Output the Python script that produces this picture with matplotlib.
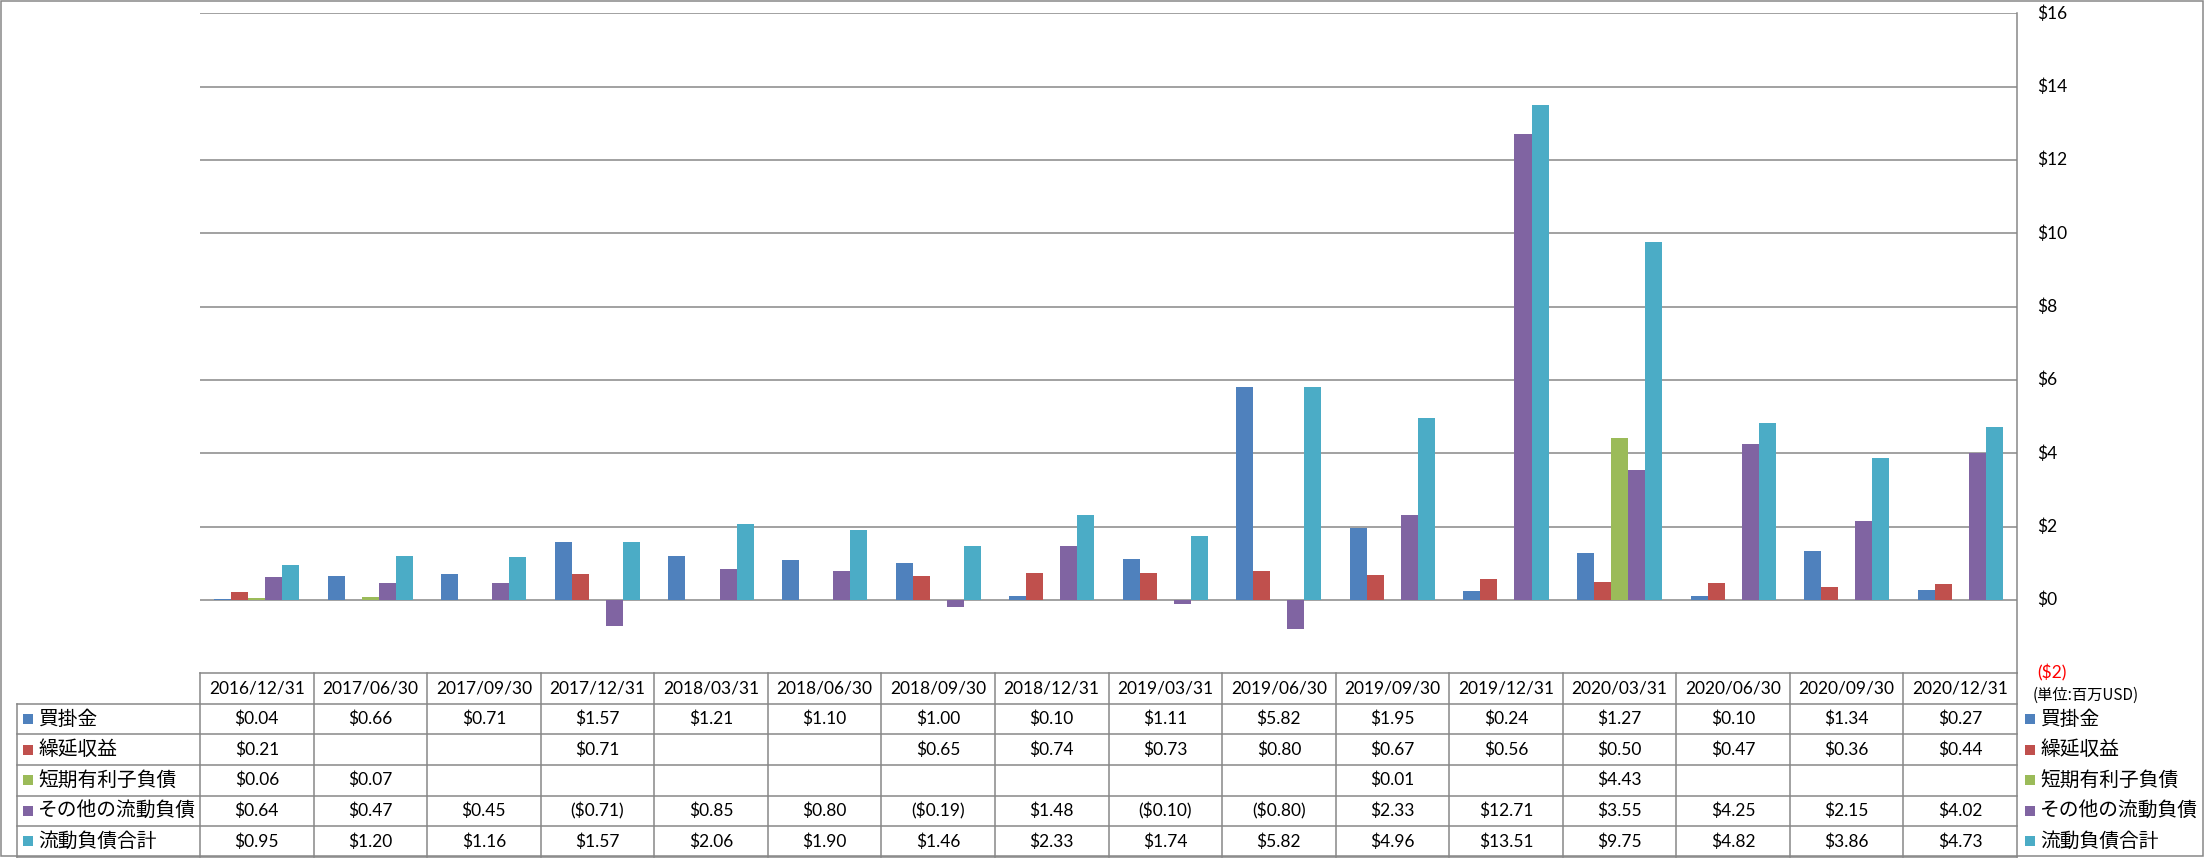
import matplotlib
matplotlib.use("Agg")
import matplotlib.pyplot as plt
from matplotlib.patches import Rectangle
import numpy as np

plt.rcParams['font.family'] = ['Lato', 'Noto Sans CJK JP', 'DejaVu Sans']

dates = ["2016/12/31", "2017/06/30", "2017/09/30", "2017/12/31", "2018/03/31",
         "2018/06/30", "2018/09/30", "2018/12/31", "2019/03/31", "2019/06/30",
         "2019/09/30", "2019/12/31", "2020/03/31", "2020/06/30", "2020/09/30",
         "2020/12/31"]

series_names = ["買掛金", "繰延収益", "短期有利子負債", "その他の流動負債", "流動負債合計"]

accounts_payable = [0.04, 0.66, 0.71, 1.57, 1.21, 1.10, 1.00, 0.10, 1.11, 5.82,
                    1.95, 0.24, 1.27, 0.10, 1.34, 0.27]
deferred_revenue = [0.21, None, None, 0.71, None, None, 0.65, 0.74, 0.73, 0.80,
                    0.67, 0.56, 0.50, 0.47, 0.36, 0.44]
short_term_debt = [0.06, 0.07, None, None, None, None, None, None, None, None,
                   0.01, None, 4.43, None, None, None]
other_current = [0.64, 0.47, 0.45, -0.71, 0.85, 0.80, -0.19, 1.48, -0.10, -0.80,
                 2.33, 12.71, 3.55, 4.25, 2.15, 4.02]
total_current = [0.95, 1.20, 1.16, 1.57, 2.06, 1.90, 1.46, 2.33, 1.74, 5.82,
                 4.96, 13.51, 9.75, 4.82, 3.86, 4.73]

y_ticks = [-2, 0, 2, 4, 6, 8, 10, 12, 14, 16]
unit_label = "(単位:百万USD)"

colors = ["#4F81BD", "#C0504D", "#9BBB59", "#8064A2", "#4BACC6"]
all_series = [accounts_payable, deferred_revenue, short_term_debt, other_current, total_current]

W, H = 2205, 858
fig = plt.figure(figsize=(W / 100, H / 100), dpi=100)

# layout in pixels
PL, PR, PT, PB = 200, 2017, 13.3, 673.3
ROW_H = 30.55
LABEL_L = 17
GRID = "#878787"
LW = 1.1
NUM_FS = 12.5
CJK_FS = 14.2

ax = fig.add_axes([PL / W, (H - PB) / H, (PR - PL) / W, (PB - PT) / H])
n = len(dates)
ax.set_xlim(0, n)
ax.set_ylim(-2, 16)
bw = 0.15
x = np.arange(n) + 0.5
for k, (vals, c) in enumerate(zip(all_series, colors)):
    xs = [xi + (k - 2) * bw for xi, v in zip(x, vals) if v is not None]
    vs = [v for v in vals if v is not None]
    ax.bar(xs, vs, width=bw, color=c, linewidth=0, zorder=3)
for t in y_ticks:
    if t > -2:
        ax.axhline(t, color=GRID, lw=LW, zorder=2)
for s in ["left", "top", "bottom"]:
    ax.spines[s].set_visible(False)
ax.spines["right"].set_color(GRID)
ax.spines["right"].set_linewidth(LW)
ax.set_xticks([])
ax.set_yticks([])

# overlay in pixel coordinates
ov = fig.add_axes([0, 0, 1, 1], zorder=5)
ov.set_xlim(0, W)
ov.set_ylim(H, 0)
ov.axis("off")
ov.patch.set_alpha(0)

# outer border
ov.add_patch(Rectangle((1, 1), W - 3, H - 3, fill=False, ec=GRID, lw=LW))

# y tick labels (right)
def fmt_tick(t):
    return f"${t}" if t >= 0 else f"(${-t})"

yscale = (PB - PT) / 18.0
for t in y_ticks:
    yy = PB - (t + 2) * yscale
    ov.text(2037, yy, fmt_tick(t), ha="left", va="center", fontsize=NUM_FS,
            color="red" if t < 0 else "black")
ov.text(2033, 695, unit_label, ha="left", va="center", fontsize=11,
        family=["Noto Sans CJK JP"])

# table
cw = (PR - PL) / n
rows_top = PB
nrows = 1 + len(series_names)
tbot = rows_top + nrows * ROW_H
ov.plot([PL, PR], [rows_top, rows_top], color=GRID, lw=LW)
for r in range(1, nrows + 1):
    yy = rows_top + r * ROW_H
    ov.plot([LABEL_L, PR], [yy, yy], color=GRID, lw=LW)
ov.plot([LABEL_L, LABEL_L], [rows_top + ROW_H, tbot], color=GRID, lw=LW)
for i in range(n + 1):
    xx = PL + i * cw
    ov.plot([xx, xx], [rows_top, tbot], color=GRID, lw=LW)

def fmt_val(v):
    if v is None:
        return ""
    return f"${v:.2f}" if v >= 0 else f"(${-v:.2f})"

for i, d in enumerate(dates):
    ov.text(PL + (i + 0.5) * cw, rows_top + 0.5 * ROW_H, d, ha="center",
            va="center", fontsize=NUM_FS)
for r, (name, vals, c) in enumerate(zip(series_names, all_series, colors)):
    yc = rows_top + (r + 1.5) * ROW_H
    ov.add_patch(Rectangle((23, yc - 5), 10, 10, color=c, lw=0))
    ov.text(38, yc, name, ha="left", va="center", fontsize=CJK_FS,
            family=["Noto Sans CJK JP"])
    for i, v in enumerate(vals):
        ov.text(PL + (i + 0.5) * cw, yc, fmt_val(v), ha="center", va="center",
                fontsize=NUM_FS)
    ov.add_patch(Rectangle((2025, yc - 5), 10, 10, color=c, lw=0))
    ov.text(2040, yc, name, ha="left", va="center", fontsize=CJK_FS,
            family=["Noto Sans CJK JP"])

fig.savefig("out.png", dpi=100)
